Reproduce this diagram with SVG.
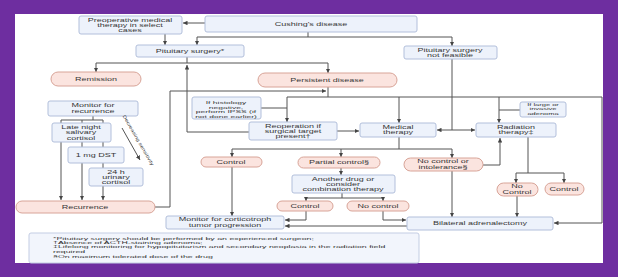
<svg xmlns="http://www.w3.org/2000/svg" width="618" height="277" viewBox="0 0 618 277">
<style>
.bx{fill:#edf2fb;stroke:#b2bfdb;stroke-width:1}
.pl{fill:#fbe4df;stroke:#d8a498;stroke-width:1}
.fn{fill:#f2f5fc;stroke:#c3cde3;stroke-width:1}
text{font-family:"Liberation Sans",Arial,sans-serif;font-size:9px;fill:#363636;text-anchor:middle}
.sm{font-size:8.5px}
.xs{font-size:7.5px}
.ft{font-size:8.8px;text-anchor:start}
.rot{font-size:6px}
.c{fill:none;stroke:#555;stroke-width:1}
.ca{fill:none;stroke:#555;stroke-width:1;marker-end:url(#ah)}
</style>
<defs>
<marker id="ah" viewBox="0 0 6 6" refX="6" refY="3" markerWidth="4.5" markerHeight="4.5" markerUnits="userSpaceOnUse" orient="auto"><path d="M0,0L6,3L0,6z" fill="#444"/></marker>
</defs>
<rect x="0" y="0" width="618" height="277" fill="#6e2ea0"/>
<rect x="15" y="14" width="588" height="249" fill="#ffffff"/>

<g id="connectors">
<path class="ca" d="M205,23H183"/>
<path class="c" d="M308,32V37M197,37H452"/>
<path class="ca" d="M197,37V45"/>
<path class="ca" d="M452,37V46"/>
<path class="ca" d="M165,34V45"/>
<path class="c" d="M187,57V63M96,63H328"/>
<path class="ca" d="M96,63V72"/>
<path class="ca" d="M328,63V73"/>
<path class="ca" d="M249,132H187V65"/>
<path class="ca" d="M155,207H170V91H326"/>
<path class="c" d="M328,87V97M287,97H602"/>
<path class="ca" d="M602,97V223H554"/>
<path class="ca" d="M287,97V122"/>
<path class="c" d="M261,108H287"/>
<path class="ca" d="M399,97V123"/>
<path class="ca" d="M499,97V123"/>
<path class="c" d="M520,110H499"/>
<path class="c" d="M452,59V130"/>
<path class="ca" d="M452,130H437"/>
<path class="ca" d="M452,130H475"/>
<path class="ca" d="M337,131H359"/>
<path class="c" d="M399,137V149M232,149H452"/>
<path class="ca" d="M232,149V157"/>
<path class="ca" d="M341,149V157"/>
<path class="ca" d="M452,149V158"/>
<path class="ca" d="M452,171V217"/>
<path class="ca" d="M483,165H500V138"/>
<path class="c" d="M528,137V173M516,173H564"/>
<path class="ca" d="M516,173V183"/>
<path class="ca" d="M564,173V183"/>
<path class="ca" d="M517,196V217"/>
<path class="c" d="M93,116V120M61,120H103"/>
<path class="ca" d="M61,120V200"/>
<path class="ca" d="M82,120V200"/>
<path class="ca" d="M103,120V200"/>
<path class="ca" d="M122,128L140,160"/>
<path class="ca" d="M232,167V216"/>
<path class="ca" d="M341,168V175"/>
<path class="c" d="M342,193V198M306,198H383"/>
<path class="ca" d="M306,198V201"/>
<path class="ca" d="M383,198V201"/>
<path class="ca" d="M306,211V220H285"/>
<path class="ca" d="M383,211V220H406"/>
<path class="ca" d="M407,226H285"/>
</g>

<g id="cushing"><rect class="bx" x="205" y="16" width="212" height="16" rx="2"/><text transform="translate(311,25.7) scale(1,0.52)">Cushing's disease</text></g>
<g id="preop"><rect class="bx" x="79" y="16" width="103" height="18" rx="2"/><text transform="translate(130,21.7) scale(1,0.52)"><tspan x="0" dy="0">Preoperative medical</tspan><tspan x="0" dy="10">therapy in select</tspan><tspan x="0" dy="10">cases</tspan></text></g>
<g id="pitsurg"><rect class="bx" x="136" y="45" width="108" height="12" rx="2"/><text transform="translate(190,52.7) scale(1,0.52)">Pituitary surgery*</text></g>
<g id="notfeasible"><rect class="bx" x="404" y="46" width="93" height="13" rx="2"/><text transform="translate(450,51.7) scale(1,0.52)"><tspan x="0" dy="0">Pituitary surgery</tspan><tspan x="0" dy="10">not feasible</tspan></text></g>
<g id="remission"><rect class="pl" x="51" y="72" width="90" height="14" rx="7"/><text transform="translate(96,80.7) scale(1,0.52)">Remission</text></g>
<g id="persistent"><rect class="pl" x="258" y="73" width="139" height="14" rx="7"/><text transform="translate(327,81.7) scale(1,0.52)">Persistent disease</text></g>
<g id="monitorrec"><rect class="bx" x="48" y="101" width="90" height="15" rx="2"/><text transform="translate(93,107.4) scale(1,0.52)"><tspan x="0" dy="0">Monitor for</tspan><tspan x="0" dy="10">recurrence</tspan></text></g>
<g id="latenight"><rect class="bx" x="52" y="123" width="59" height="19" rx="2"/><text transform="translate(81,129.2) scale(1,0.52)"><tspan x="0" dy="0">Late night</tspan><tspan x="0" dy="10">salivary</tspan><tspan x="0" dy="10">cortisol</tspan></text></g>
<g id="dst"><rect class="bx" x="68" y="147" width="56" height="16" rx="2"/><text transform="translate(96,156.7) scale(1,0.52)">1 mg DST</text></g>
<g id="urinary"><rect class="bx" x="89" y="168" width="54" height="18" rx="2"/><text transform="translate(116,173.7) scale(1,0.52)"><tspan x="0" dy="0">24 h</tspan><tspan x="0" dy="10">urinary</tspan><tspan x="0" dy="10">cortisol</tspan></text></g>
<g id="sens"><text class="rot" transform="translate(137,141) rotate(60) scale(1,0.75)">Decreasing sensitivity</text></g>
<g id="recurrence"><rect class="pl" x="16" y="201" width="139" height="12" rx="6"/><text transform="translate(85,208.7) scale(1,0.52)">Recurrence</text></g>
<g id="histology"><rect class="bx" x="192" y="97" width="69" height="22" rx="2"/><text class="sm" transform="translate(226,104) scale(1,0.5)"><tspan x="0" dy="0">If histology</tspan><tspan x="0" dy="9.4">negative,</tspan><tspan x="0" dy="9.4">perform IPSS (if</tspan><tspan x="0" dy="9.4">not done earlier)</tspan></text></g>
<g id="reoperation"><rect class="bx" x="249" y="122" width="88" height="18" rx="2"/><text transform="translate(293,127.7) scale(1,0.52)"><tspan x="0" dy="0">Reoperation if</tspan><tspan x="0" dy="10">surgical target</tspan><tspan x="0" dy="10">present†</tspan></text></g>
<g id="medical"><rect class="bx" x="360" y="123" width="76" height="14" rx="2"/><text transform="translate(398,129) scale(1,0.52)"><tspan x="0" dy="0">Medical</tspan><tspan x="0" dy="10">therapy</tspan></text></g>
<g id="radiation"><rect class="bx" x="476" y="123" width="80" height="14" rx="2"/><text transform="translate(516,129) scale(1,0.52)"><tspan x="0" dy="0">Radiation</tspan><tspan x="0" dy="10">therapy‡</tspan></text></g>
<g id="large"><rect class="bx" x="520" y="102" width="46" height="15" rx="2"/><text class="xs" transform="translate(543,105.9) scale(1,0.52)"><tspan x="0" dy="0">If large or</tspan><tspan x="0" dy="8.4">invasive</tspan><tspan x="0" dy="8.4">adenoma</tspan></text></g>
<g id="control1"><rect class="pl" x="201" y="157" width="61" height="10" rx="5"/><text transform="translate(231,163.7) scale(1,0.52)">Control</text></g>
<g id="partial"><rect class="pl" x="298" y="157" width="82" height="11" rx="5.5"/><text transform="translate(339,164.2) scale(1,0.52)">Partial control§</text></g>
<g id="intolerance"><rect class="pl" x="404" y="158" width="79" height="13" rx="6.5"/><text transform="translate(443,163.4) scale(1,0.52)"><tspan x="0" dy="0">No control or</tspan><tspan x="0" dy="10">intolerance§</tspan></text></g>
<g id="another"><rect class="bx" x="292" y="175" width="103" height="18" rx="2"/><text transform="translate(343,181) scale(1,0.52)"><tspan x="0" dy="0">Another drug or</tspan><tspan x="0" dy="10">consider</tspan><tspan x="0" dy="10">combination therapy</tspan></text></g>
<g id="control2"><rect class="pl" x="277" y="201" width="56" height="10" rx="5"/><text transform="translate(305,207.7) scale(1,0.52)">Control</text></g>
<g id="nocontrol2"><rect class="pl" x="347" y="201" width="62" height="10" rx="5"/><text transform="translate(378,207.7) scale(1,0.52)">No control</text></g>
<g id="monitortumor"><rect class="bx" x="166" y="216" width="118" height="13" rx="2"/><text transform="translate(225,221.4) scale(1,0.52)"><tspan x="0" dy="0">Monitor for corticotroph</tspan><tspan x="0" dy="10">tumor progression</tspan></text></g>
<g id="bilateral"><rect class="bx" x="407" y="217" width="146" height="13" rx="2"/><text transform="translate(480,225.2) scale(1,0.52)">Bilateral adrenalectomy</text></g>
<g id="nocontrol3"><rect class="pl" x="497" y="183" width="41" height="13" rx="6.5"/><text transform="translate(517,188.4) scale(1,0.52)"><tspan x="0" dy="0">No</tspan><tspan x="0" dy="10">Control</tspan></text></g>
<g id="control3"><rect class="pl" x="545" y="183" width="39" height="12" rx="6"/><text transform="translate(564,190.7) scale(1,0.52)">Control</text></g>
<g id="footnotes"><rect class="fn" x="29" y="233" width="390" height="30" rx="2"/>
<text class="ft" transform="translate(53,240) scale(1,0.43)">*Pituitary surgery  should be performed by an experienced surgeon;</text>
<text class="ft" transform="translate(53,244.2) scale(1,0.43)">†Absence of ACTH-staining adenoma;</text>
<text class="ft" transform="translate(53,248.4) scale(1,0.43)">‡Lifelong monitoring for hypopituitarism and secondary neoplasia in the radiation field</text>
<text class="ft" transform="translate(53,252.6) scale(1,0.43)">required</text>
<text class="ft" transform="translate(53,257.5) scale(1,0.43)">§On maximum tolerated dose of the drug</text>
</g>
</svg>
